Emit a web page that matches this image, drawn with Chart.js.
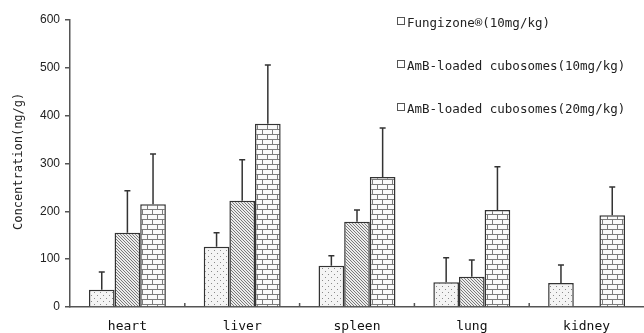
<!DOCTYPE html>
<html>
<head>
<meta charset="utf-8">
<script src="https://cdn.jsdelivr.net/npm/chart.js@4.4.1/dist/chart.umd.min.js"></script>
<style>
  body { margin: 0; background: #fff; }
  #wrap { position: relative; width: 644px; height: 333px; }
  #legend { position: absolute; left: 397px; top: 15px; font: 12.5px "DejaVu Sans Mono", monospace; color: #222; }
  #legend div { height: 43px; white-space: nowrap; }
  #legend span.box { display: inline-block; width: 6px; height: 6px; border: 1px solid #555; margin-right: 2px; vertical-align: 2px; }
  #ytitle { position: absolute; left: 11px; top: 88px; height: 147px; writing-mode: vertical-rl; transform: rotate(180deg);
            font: normal 400 12px "DejaVu Sans Mono", monospace; color: #222; white-space: nowrap; text-align: center; }
</style>
</head>
<body>
<div id="wrap">
  <canvas id="chart" width="644" height="333"></canvas>
  <div id="ytitle">Concentration(ng/g)</div>
  <div id="legend"></div>
</div>
<script>
const organs = ['heart', 'liver', 'spleen', 'lung', 'kidney'];
const seriesNames = [
    'Fungizone\u00ae(10mg/kg)',
    'AmB-loaded cubosomes(10mg/kg)',
    'AmB-loaded cubosomes(20mg/kg)'
];
const fungizone10 = [36, 126, 86, 52, 50];
const cubo10 = [155, 222, 178, 63, null];
const cubo20 = [215, 383, 272, 203, 192];
// upper error (SD) for each bar
const fungizone10Err = [37, 29, 21, 51, 38];
const cubo10Err = [88, 86, 25, 35, null];
const cubo20Err = [105, 123, 102, 90, 59];
const yTicks = [0, 100, 200, 300, 400, 500, 600];

// fill patterns
function makePattern(kind) {
    const c = document.createElement('canvas');
    const p = c.getContext('2d');
    if (kind === 'dots') {
        c.width = 6; c.height = 6;
        p.fillStyle = '#f4f4f4'; p.fillRect(0, 0, 6, 6);
        p.fillStyle = '#8a8a8a';
        p.fillRect(1, 1, 1, 1);
        p.fillRect(4, 4, 1, 1);
    } else if (kind === 'hatch') {
        c.width = 3; c.height = 3;
        p.fillStyle = '#ececec'; p.fillRect(0, 0, 3, 3);
        p.fillStyle = '#7a7a7a';
        p.fillRect(0, 0, 1, 1);
        p.fillRect(1, 1, 1, 1);
        p.fillRect(2, 2, 1, 1);
    } else {
        c.width = 10; c.height = 10;
        p.fillStyle = '#fafafa'; p.fillRect(0, 0, 10, 10);
        p.fillStyle = '#7c7c7c';
        p.fillRect(0, 4, 10, 1);
        p.fillRect(0, 9, 10, 1);
        p.fillRect(2, 0, 1, 4);
        p.fillRect(7, 5, 1, 4);
    }
    return document.getElementById('chart').getContext('2d').createPattern(c, 'repeat');
}

const fills = [makePattern('dots'), makePattern('hatch'), makePattern('brick')];
const errs = [fungizone10Err, cubo10Err, cubo20Err];

const legend = document.getElementById('legend');
seriesNames.forEach(name => {
    const d = document.createElement('div');
    d.innerHTML = '<span class="box"></span>' + name;
    legend.appendChild(d);
});

const errorBars = {
    id: 'errorBars',
    afterDatasetsDraw(chart) {
        const ctx = chart.ctx;
        const y = chart.scales.y;
        ctx.save();
        ctx.strokeStyle = '#333';
        ctx.lineWidth = 1.5;
        chart.data.datasets.forEach((ds, i) => {
            const meta = chart.getDatasetMeta(i);
            meta.data.forEach((bar, j) => {
                const v = ds.data[j];
                const e = errs[i][j];
                if (v == null || e == null) return;
                const top = y.getPixelForValue(v + e);
                ctx.beginPath();
                ctx.moveTo(bar.x, bar.y);
                ctx.lineTo(bar.x, top);
                ctx.moveTo(bar.x - 3, top);
                ctx.lineTo(bar.x + 3, top);
                ctx.stroke();
            });
        });
        ctx.restore();
    },
    afterDraw(chart) {
        // small inward tick marks between categories
        const ctx = chart.ctx;
        const x = chart.scales.x;
        const bottom = chart.chartArea.bottom;
        ctx.save();
        ctx.strokeStyle = '#555';
        ctx.lineWidth = 1.5;
        for (let i = 1; i < organs.length; i++) {
            const px = (x.getPixelForValue(i - 1) + x.getPixelForValue(i)) / 2;
            ctx.beginPath();
            ctx.moveTo(px, bottom);
            ctx.lineTo(px, bottom - 4);
            ctx.stroke();
        }
        ctx.restore();
    }
};

new Chart(document.getElementById('chart'), {
    type: 'bar',
    data: {
        labels: organs,
        datasets: [fungizone10, cubo10, cubo20].map((d, i) => ({
            label: seriesNames[i],
            data: d,
            backgroundColor: fills[i],
            borderColor: '#333',
            borderWidth: 1.5,
            borderSkipped: 'bottom',
            categoryPercentage: 0.67,
            barPercentage: 1.0
        }))
    },
    options: {
        responsive: false,
        animation: false,
        layout: { padding: { top: 20, right: 0, left: 0, bottom: 0 } },
        plugins: { legend: { display: false }, tooltip: { enabled: false } },
        scales: {
            x: {
                grid: { display: false },
                border: { color: '#555', width: 1.5 },
                ticks: { color: '#111', font: { family: 'DejaVu Sans Mono', size: 13 }, padding: 4 },
                afterFit: s => { s.height = 26; }
            },
            y: {
                min: 0,
                max: 600,
                afterBuildTicks: s => { s.ticks = yTicks.map(v => ({ value: v })); },
                grid: { drawOnChartArea: false, color: '#555', lineWidth: 1.5, tickLength: 5 },
                border: { color: '#555', width: 1.5 },
                ticks: { color: '#222', font: { family: 'Liberation Sans', size: 12 }, padding: 5 },
                afterFit: s => { s.width = 70; }
            }
        }
    },
    plugins: [errorBars]
});
</script>
</body>
</html>
